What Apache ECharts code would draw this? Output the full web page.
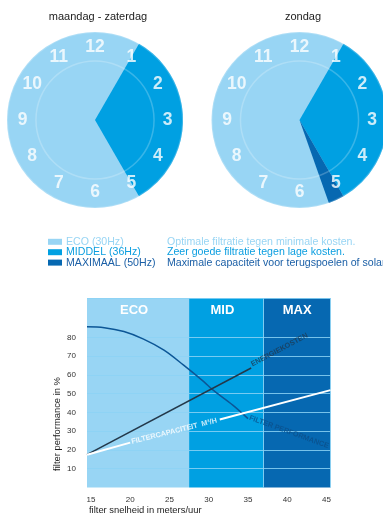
<!DOCTYPE html>
<html><head><meta charset="utf-8">
<script src="https://cdn.jsdelivr.net/npm/echarts@6/dist/echarts.min.js"></script>
<style>html,body{margin:0;padding:0;background:#fff}#c{width:383px;height:518px}</style>
</head><body><div id="c"></div>
<script>
// ---------- data ----------
const clockLabels = ['12','1','2','3','4','5','6','7','8','9','10','11'];
const clockTitles = ['maandag - zaterdag', 'zondag'];
const weekdayModes = ['ECO', 'MID', 'ECO'];
const weekdayHours = [1, 4, 7];
const sundayModes = ['ECO', 'MID', 'MAX', 'ECO'];
const sundayHours = [1, 4, 0.35, 6.65];
const legendModes = ['ECO', 'MID', 'MAX'];
const legendNames = ['ECO (30Hz)', 'MIDDEL (36Hz)', 'MAXIMAAL (50Hz)'];
const legendDescriptions = ['Optimale filtratie tegen minimale kosten.', 'Zeer goede filtratie tegen lage kosten.', 'Maximale capaciteit voor terugspoelen of solar'];
const bandNames = ['ECO', 'MID', 'MAX'];
const bandEdges = [14.5, 27.5, 37, 45.5];
const xTicks = [15, 20, 25, 30, 35, 40, 45];
const yTicks = [10, 20, 30, 40, 50, 60, 70, 80];
const perfX = [14.5, 16.7, 19.2, 21.7, 24.3, 26.8, 29.4, 30.4, 33.1, 35.0];
const perfY = [85.7, 85.2, 83.1, 79.1, 73.2, 65.2, 56.3, 52.4, 43.8, 36.7];
const energyX = [14.5, 35.4];
const energyY = [17.5, 63.7];
const capacityX1 = [14.5, 20.0];
const capacityY1 = [17.5, 23.9];
const capacityX2 = [31.4, 45.5];
const capacityY2 = [36.2, 51.9];
const curveLabels = ['ENERGIEKOSTEN', 'FILTER PERFORMANCE', 'FILTERCAPACITEIT  M\u00B3/H'];
const curveLabelX = [39.0, 40.2, 25.6];
const curveLabelY = [73.3, 29.6, 30.0];
const xName = 'filter snelheid in meters/uur';
const yName = 'filter performance in %';

// ---------- style ----------
const C = {ECO: '#98d5f4', MID: '#00a0e2', MAX: '#0668b1'};
const legendTextColor = {ECO: '#98d5f4', MID: '#0a9ee0', MAX: '#1b5fa6'};
const FONT = 'Liberation Sans, Arial, Helvetica, sans-serif';
const clockCenters = [[95, 120], [299.5, 120]];
const R = 88;
const labelRadius = 72.5;

const series = [];
const polar = [], angleAxis = [], radiusAxis = [];
function clock(idx, hours, modes) {
  const c = clockCenters[idx];
  polar.push({center: c, radius: R});
  angleAxis.push({polarIndex: idx, type: 'value', min: 0, max: 12, startAngle: 90, clockwise: true, show: false});
  radiusAxis.push({polarIndex: idx, type: 'value', min: 0, max: R, show: false});
  const base = {type: 'pie', center: c, startAngle: 90, silent: true, animation: false,
    label: {show: false}, labelLine: {show: false}, emphasis: {disabled: true}};
  series.push(Object.assign({}, base, {radius: [0, R], z: 1,
    data: [{value: 1, itemStyle: {color: C.ECO, borderWidth: 0}}]}));
  series.push(Object.assign({}, base, {radius: [0, R], z: 2,
    data: hours.map((h, i) => ({value: h, name: modes[i] + i,
      itemStyle: {borderWidth: 0, color: modes[i] === 'ECO' ? 'rgba(0,0,0,0)' : C[modes[i]]}}))}));
  series.push(Object.assign({}, base, {radius: [58.3, 59.8], z: 3,
    data: [{value: 1, itemStyle: {color: 'rgba(255,255,255,0.22)', borderWidth: 0}}]}));
  series.push(Object.assign({}, base, {radius: [87, 88.5], z: 3,
    data: [{value: 1, itemStyle: {color: 'rgba(255,255,255,0.2)', borderWidth: 0}}]}));
  series.push({type: 'scatter', coordinateSystem: 'polar', polarIndex: idx, symbolSize: 1,
    silent: true, animation: false, z: 4, itemStyle: {color: 'rgba(0,0,0,0)'},
    data: clockLabels.map((t, i) => [labelRadius, i]),
    label: {show: true, position: 'inside', formatter: p => clockLabels[p.dataIndex],
      color: '#fff', fontSize: 17.5, fontWeight: 'bold', fontFamily: FONT}});
}
clock(0, weekdayHours, weekdayModes);
clock(1, sundayHours, sundayModes);

const zip = (xs, ys) => xs.map((x, i) => [x, ys[i]]);
const bandLabelOffset = [[-4, 0], [-4, 0], [0, 0]];

// bands + grid lines
series.push({type: 'line', xAxisIndex: 0, yAxisIndex: 0, data: [], silent: true, animation: false, z: 1,
  markArea: {silent: true, z: 1, data: bandNames.map((n, i) => [
    {xAxis: bandEdges[i], yAxis: 0, name: n, itemStyle: {color: C[n]},
     label: {show: true, position: 'insideTop', distance: 6, offset: bandLabelOffset[i], color: '#fff',
       fontSize: 13, fontWeight: 'bold', fontFamily: FONT}},
    {xAxis: bandEdges[i + 1], yAxis: 101}])},
  markLine: {silent: true, symbol: 'none', z: 2, label: {show: false},
    lineStyle: {color: 'rgba(140,210,245,0.85)', width: 1, type: 'solid'},
    data: yTicks.map(v => ({yAxis: v})).concat([{xAxis: bandEdges[2]}, {xAxis: bandEdges[3]}, {yAxis: 101}])}
});
series.push({type: 'line', data: zip(perfX, perfY), smooth: 0.35, symbol: 'none', silent: true, animation: false, z: 5,
  lineStyle: {color: '#0c5696', width: 1.5}});
series.push({type: 'line', data: zip(energyX, energyY), symbol: 'none', silent: true, animation: false, z: 5,
  lineStyle: {color: '#23384a', width: 1.5}});
series.push({type: 'line', data: zip(capacityX1, capacityY1), symbol: 'none', silent: true, animation: false, z: 5,
  lineStyle: {color: '#ffffff', width: 2}});
series.push({type: 'line', data: zip(capacityX2, capacityY2), symbol: 'none', silent: true, animation: false, z: 5,
  lineStyle: {color: '#ffffff', width: 2}});
const curveLabelColor = ['#1d3a52', '#0b4f8a', '#ffffff'];
const curveLabelRotate = [28, -20, 14];
const curveLabelSize = [7.3, 7.3, 7.3];
series.push({type: 'scatter', symbolSize: 1, silent: true, animation: false, z: 6,
  itemStyle: {color: 'rgba(0,0,0,0)'},
  data: curveLabels.map((t, i) => ({value: [curveLabelX[i], curveLabelY[i]],
    label: {show: true, position: 'inside', formatter: t, rotate: curveLabelRotate[i], color: curveLabelColor[i],
      fontSize: curveLabelSize[i], fontWeight: 'bold', fontFamily: FONT}}))});

const graphic = [];
clockTitles.forEach((t, i) => graphic.push({type: 'text', x: [98, 303][i], y: 17,
  style: {text: t, fill: '#222', font: '11px ' + FONT, align: 'center', verticalAlign: 'middle'}}));
const legendRowY = [241.8, 252.2, 262.6];
legendModes.forEach((m, i) => {
  graphic.push({type: 'rect', shape: {x: 48, y: legendRowY[i] - 3, width: 14, height: 6}, style: {fill: C[m]}});
  graphic.push({type: 'text', x: 66, y: legendRowY[i], style: {text: legendNames[i], fill: legendTextColor[m],
    font: '10.6px ' + FONT, verticalAlign: 'middle'}});
  graphic.push({type: 'text', x: 167, y: legendRowY[i], style: {text: legendDescriptions[i], fill: legendTextColor[m],
    font: '10.6px ' + FONT, verticalAlign: 'middle'}});
});
graphic.push({type: 'text', x: 89, y: 510, style: {text: xName, fill: '#222', font: '9.4px ' + FONT, verticalAlign: 'middle'}});
graphic.push({type: 'text', x: 57, y: 424, rotation: Math.PI / 2,
  style: {text: yName, fill: '#222', font: '9.4px ' + FONT, align: 'center', verticalAlign: 'middle'}});

const chart = echarts.init(document.getElementById('c'), null, {renderer: 'canvas'});
chart.setOption({
  animation: false,
  backgroundColor: '#ffffff',
  polar, angleAxis, radiusAxis,
  grid: {left: 87, top: 298, width: 243.5, height: 189.5, containLabel: false},
  xAxis: {type: 'value', min: 14.5, max: 45.5, axisLine: {show: false}, axisTick: {show: false}, splitLine: {show: false},
    axisLabel: {customValues: xTicks, margin: 8, fontSize: 8, color: '#333', fontFamily: FONT}},
  yAxis: {type: 'value', min: 0, max: 101, axisLine: {show: false}, axisTick: {show: false}, splitLine: {show: false},
    axisLabel: {customValues: yTicks, margin: 11, fontSize: 8, color: '#333', fontFamily: FONT}},
  series, graphic
});
</script></body></html>
